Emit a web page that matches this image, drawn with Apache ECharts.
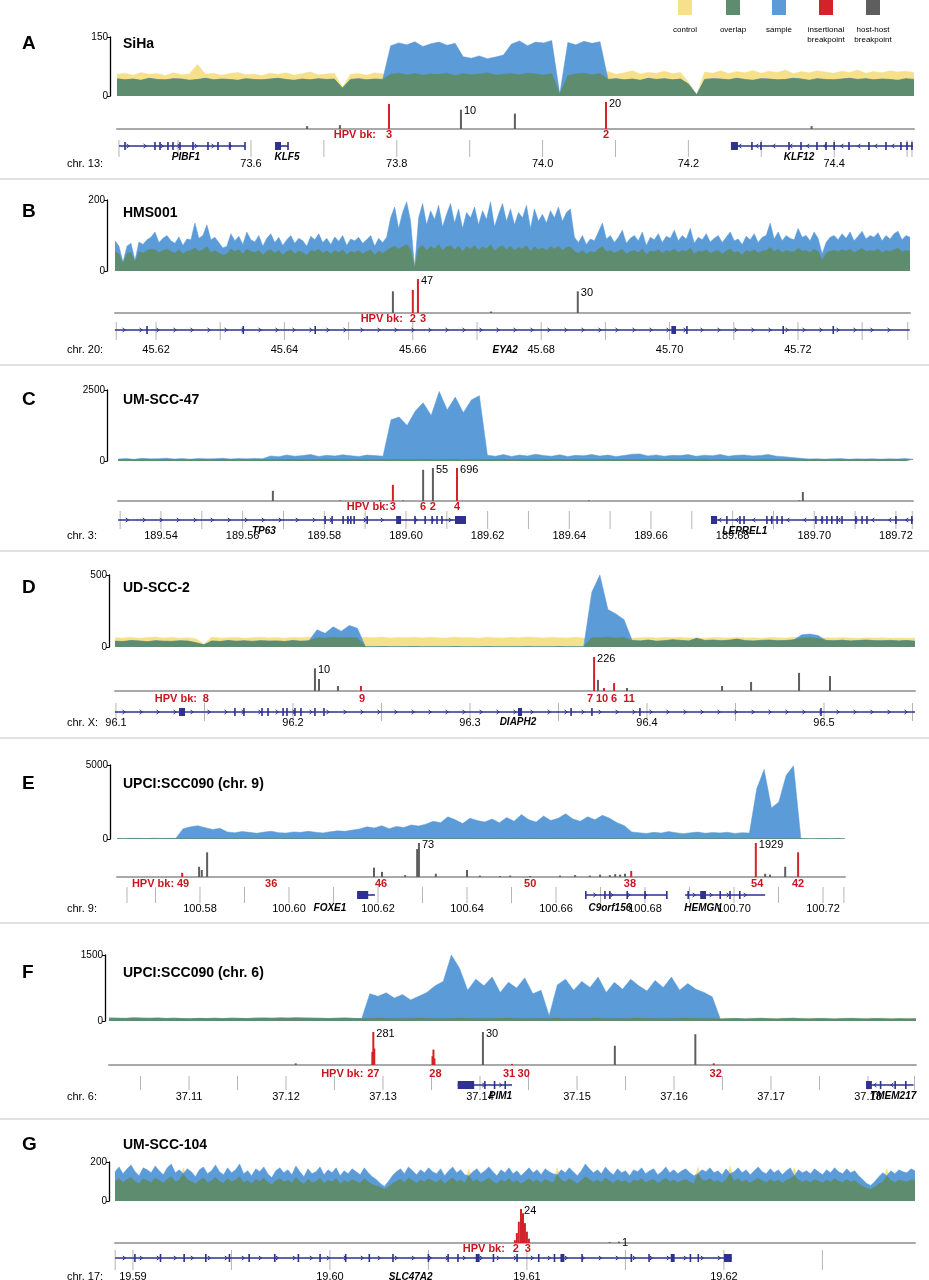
<!DOCTYPE html>
<html>
<head>
<meta charset="utf-8">
<script src="https://cdn.jsdelivr.net/npm/echarts@6/dist/echarts.min.js"></script>
<style>
  html, body { margin: 0; padding: 0; background: #fff; }
  #chart-container { width: 929px; height: 1280px; }
</style>
</head>
<body>
<div id="chart-container"></div>
<script>
// ---- coverage (equal bins across each window) ----
var sihaSample = [44,41,43,40,45,42,41,44,43,40,42,45,41,43,42,40,44,42,41,43,45,42,40,43,41,44,42,43,20,42,44,41,43,42,
  128,135,130,138,126,133,137,129,134, 100,96,102,95,99,104, 132,140,128,137,135,141,5,136,130,139,134,138,
  42,44,41,43,40,45,42,44,41,43,30,3,42,44,43,41,45,42,40,44,43,41,42,45,43,40,44,42,41,43,45,42,44,41,43,42,40,44,42];
var sihaControl = [56,58,53,60,55,57,52,59,54,56,80,55,58,53,57,60,54,56,52,58,55,59,53,57,61,54,56,58,22,55,
  57,53,59,56,55,58,54,57,53,56,55,58,52,57,54,56,59,53,55,57,54,58,56,53,57,5,52,56,58,54,
  57,62,55,59,64,56,60,58,63,57,60,35,3,61,58,64,57,62,59,65,58,63,60,66,57,62,59,64,61,58,63,60,66,58,62,59,64,61,63,60];

var hms001Sample = [85,70,25,70,78,30,82,75,88,95, 110,80,92,100,85,78,96,72,90,88, 135,92,100,130,88,95,80,65,70,105,
  85,98,75,110,88,82,100,70,92,105, 80,95,72,88,100,78,92,85,70,98, 88,105,80,92,75,96,84,100,72,90,
  85,95,78,88,100,70,92,80,95,150, 180,120,165,195,140,8,150,190,130,170, 145,185,125,160,190,135,175,120,165,150,
  180,130,170,145,195,125,160,190,140,175, 130,165,150,185,120,175,140,160,135,170, 150,180,140,165,175,95,80,100,75,90,
  85,110,135,90,100,80,95,115,78,92, 100,85,110,72,95,88,105,80,98,92, 115,85,100,90,120,78,95,88,105,82,
  92,100,80,95,110,85,90,75,98,88, 105,80,95,100,135,90,110,85,100,92, 88,120,95,100,85,110,92,48,80,95,
  100,88,105,92,110,85,98,112,90,100, 95,108,85,100,90,105,112,88,100,95];
var hms001Control = [55,48,22,50,52,25,55,50,58,62, 60,52,58,62,55,50,60,48,56,58, 65,55,60,68,52,58,50,45,48,62,
  55,60,48,62,55,52,58,45,56,60, 50,58,46,55,60,48,56,52,45,58, 55,62,50,56,48,58,52,60,46,55,
  52,58,48,55,60,45,56,50,58,65, 70,62,68,75,60,22,65,72,58,70, 62,75,58,68,72,60,70,55,68,62,
  72,58,68,62,75,56,66,72,60,70, 58,66,62,72,55,68,60,65,58,68, 62,70,58,66,68,55,50,58,48,55,
  52,62,68,55,58,50,56,62,48,55, 58,52,62,46,56,54,60,50,58,55, 62,52,58,55,64,48,56,54,60,50,
  55,58,48,56,62,52,55,46,58,54, 60,50,56,58,66,54,62,52,58,55, 54,64,56,58,52,62,55,30,50,56,
  58,54,60,56,62,52,58,64,55,58, 56,62,52,58,55,60,64,54,58,56];

var umscc47Sample = [70,85,60,95,75,80,100,70,85,65,90,75,80,95,70,85,75,90,80,
  180,150,210,170,190,230,160,200,175,220,185,160,210,190,170,
  1450,1550,1250,1750,2050,1600,2450,1800,2250,1700,2150,2300,
  200,170,230,160,210,180,240,190,170,220,160,200,185,230,175,210,160,195,240,250,180,215,170,200,190,225,165,205,185,230,170,200,215,180,195,230,170,150,120,100,
  70,80,65,75,85,60,75,70,80,65,75,70,85,60];
var umscc47Control = [50,55,45,60,50,52,58,48,55,50,52,48,55,60,50,54,48,56,52,50,55,50,58,52,48,55,60,50,54,52,
  50,56,48,55,52,58,50,54,60,52,55,50,58,48,56,52,50,55,60,48,54,52,56,50,58,52,48,55,50,54,
  52,58,50,55,48,56,52,60,50,54,55,50,52,58,48,55,50,56,52,50,54,50,56,52,58,48,55,50,52,56,50,54,48,55,52,50,56,52,48,54];

var udscc2Sample = [40,38,45,42,36,44,40,39,43,41,30,15,42,38,45,40,43,39,44,41,42,38,45,40,43,
  120,95,140,110,150,130,
  2,1,3,2,1,2,3,1,2,2,1,3,2,1,2,3,2,1,2,2,3,1,2,1,3,2,1,2,
  380,500,260,230,190,
  45,42,48,40,44,50,46,42,60,45,48,43,47,55,44,42,46,48,43,45,50,85,90,80,46,43,47,42,45,48,44,43,46,42,45,40];
var udscc2Control = [65,62,68,60,66,70,63,67,61,65,58,20,69,62,64,67,60,65,68,63,66,61,67,64,70,65,62,68,64,66,
  63,67,65,70,62,66,64,68,63,67,65,62,69,64,66,61,68,65,63,67,64,70,66,62,68,65,63,67,62,66,
  64,68,63,66,61,65,68,62,66,64,67,63,65,61,66,64,62,67,63,65,60,66,64,62,67,63,65,61,64,62,66,63,60,65,62,64,61,63,60,62];

var upci9Sample = [40,35,50,45,30,55,40,45,50,
  700,820,900,760,650,720,
  480,420,510,450,390,470,520,430,400,480,450,520,460,410,490,550,520,600,
  680,820,750,900,700,850,780,950,880,
  1000,1200,1100,1500,1300,1050,1400,1250,1150,1350,1100,1450,1200,1650,1300,1150,1550,1250,1400,1700,1350,1200,1500,1300,1600,1400,1100,900,
  480,420,380,450,400,500,430,360,420,470,390,440,410,460,380,430,400,
  3400,4700,2100,2500,4300,4950,
  30,20,25,30,20,45,25];
var upci9Control = [30,25,35,28,32,26,30,34,27,31,29,33,26,30,35,28,31,27,32,29,34,26,30,33,28,31,25,32,29,30,
  27,33,30,26,31,34,28,30,32,27,29,31,26,33,30,28,32,25,31,29,30,34,27,31,28,33,26,30,32,29,
  31,27,33,28,30,26,32,29,34,30,28,31,25,33,29,30,27,32,28,31,30,26,33,29,31,28,34,27,30,32,29,31,26,30,33,28,30,27,31,29];

var upci6Sample = [70,65,60,75,68,62,70,58,64,55,50,60,58,62,55,65,60,58,66,70,64,72,68,75,70,66,62,58,64,70,60,55,
  620,560,640,520,600,480,560,650,
  800,900,1500,1200,
  700,950,800,1000,650,880,750,980,620,700,
  120,
  820,950,700,900,760,1000,650,880,720,950,800,680,920,760,1000,700,850,720,650,550,
  45,50,55,48,52,60,50,46,55,62,50,48,54,50,45,52,58,50,48,55,50,46,52,48,50];
var upci6Control = [65,62,58,70,64,60,66,56,62,58,52,60,56,64,58,62,60,55,64,66,62,68,64,70,66,62,60,56,62,66,
  58,56,62,66,60,64,58,62,66,60,64,58,62,66,60,64,58,62,60,66,62,58,64,60,62,66,58,64,60,62,
  66,58,64,60,62,66,60,58,64,62,60,66,62,58,64,60,66,62,58,68,64,60,66,70,62,64,68,60,66,62,64,70,62,66,60,68,64,62,66,60];

var umscc104Sample = [150,175,140,165,185,150,130,170,160,145, 180,155,135,170,190,145,160,140,165,150,
  125,160,175,140,155,185,150,135,170,145, 160,190,140,155,130,165,150,175,140,120,
  155,170,145,160,135,180,150,125,165,140, 150,175,135,160,145,170,130,155,140,165,
  150,135,170,145,125,110,90,75,100,130, 150,165,140,175,155,135,160,145,170,150,
  140,165,130,155,175,145,160,135,130,150, 165,140,155,175,150,130,160,145,170,140,
  155,130,150,170,145,160,135,165,150,140, 135,160,145,170,150,130,155,190,165,145,
  160,140,175,150,135,165,145,155,130,160, 150,170,140,155,165,135,150,175,145,160,
  140,155,165,145,130,140,160,150,170,145, 155,135,165,140,150,170,145,160,135,155,
  175,150,140,165,145,160,135,155,170,130, 160,145,155,140,165,150,135,160,145,170,
  150,140,165,145,155,130,110,90,80,100, 125,145,130,155,140,160,150,145,165,155];
var umscc104Control = [100,115,95,110,120,100,90,115,105,95, 118,105,92,112,125,98,108,170,110,100,
  88,105,118,95,102,122,100,92,115,98, 108,125,95,105,88,110,100,118,95,85,
  105,115,98,108,92,120,100,86,112,95, 100,118,90,108,98,115,88,105,95,110,
  100,92,115,98,85,78,70,60,72,90, 100,112,95,118,105,92,108,98,115,102,
  95,112,88,105,118,98,108,92,165,100, 110,95,105,118,100,88,108,98,115,95,
  105,88,100,115,98,108,92,112,100,95, 170,108,98,115,102,88,105,125,110,98,
  108,95,118,102,92,110,98,105,88,108, 102,115,95,105,110,92,102,118,98,108,
  95,105,110,98,88,175,108,102,115,98, 105,92,110,180,102,115,98,108,92,105,
  118,102,95,110,98,108,92,105,115,170, 108,98,105,95,110,102,92,108,98,115,
  102,95,110,98,105,88,75,65,60,72, 88,98,165,105,95,108,102,98,110,105];

// ---- breakpoints: [position Mb, reads, show count label] ----
var sihaInsertional = [[73.7893, 13], [74.087, 20, 1]];
var sihaHostHost = [[73.677, 1.5], [73.722, 2], [73.888, 10, 1], [73.962, 8], [74.369, 1.5]];
var hms001Insertional = [[45.6600, 32], [45.6608, 47, 1]];
var hms001HostHost = [[45.6569, 30], [45.6722, 2], [45.6857, 30, 1]];
var umscc47Insertional = [[189.5968, 27], [189.6125, 696, 1]];
var umscc47HostHost = [[189.5674, 17], [189.5838, 1], [189.5936, 1.5], [189.5993, 1], [189.6042, 52], [189.6066, 55, 1], [189.6448, 1], [189.6963, 1], [189.6972, 15]];
var udscc2Insertional = [[96.2384, 2.2], [96.3701, 226, 1], [96.3757, 1.3], [96.3814, 3.5]];
var udscc2HostHost = [[96.2124, 10, 1], [96.2147, 5.3], [96.2254, 2.2], [96.3723, 4.9], [96.3887, 1.3], [96.4424, 2.2], [96.4588, 4], [96.4859, 8], [96.5034, 6.6]];
var upci9Insertional = [[100.5760, 9], [100.6769, 13], [100.7049, 1929, 1], [100.7144, 53]];
var upci9HostHost = [[100.5798, 22], [100.5804, 15], [100.5816, 53], [100.6191, 20], [100.6209, 11], [100.6261, 4], [100.6288, 60], [100.6292, 73, 1],
  [100.6330, 7], [100.6400, 15], [100.6429, 3], [100.6474, 2], [100.6497, 3], [100.6542, 2], [100.6609, 3], [100.6643, 4], [100.6676, 3], [100.6699, 5],
  [100.6721, 4], [100.6733, 6], [100.6744, 5], [100.6755, 7], [100.7070, 7], [100.7081, 5], [100.7115, 22]];
var upci6Insertional = [[37.1289, 12], [37.1290, 281, 1], [37.1291, 15], [37.1351, 8], [37.1352, 14], [37.1353, 6], [37.1433, 1], [37.1641, 1.5]];
var upci6HostHost = [[37.1210, 1.5], [37.1403, 30, 1], [37.1539, 17.5], [37.1622, 28]];
var umscc104Insertional = [[19.60939, 2], [19.60949, 7], [19.60959, 15], [19.60970, 24, 1], [19.60980, 21], [19.60990, 14], [19.61000, 8], [19.61010, 3]];
var umscc104HostHost = [[19.6142, 0.6], [19.61467, 1, 1]];

// ---- HPV breakpoint ids ----
var sihaHpv = [[73.7893, '3'], [74.087, '2']];
var hms001Hpv = [[45.6600, '2'], [45.6616, '3']];
var umscc47Hpv = [[189.5968, '3'], [189.6042, '6'], [189.6066, '2'], [189.6125, '4']];
var udscc2Hpv = [[96.1508, '8'], [96.2390, '9'], [96.3678, '7'], [96.3746, '10'], [96.3814, '6'], [96.3898, '11']];
var upci9Hpv = [[100.5762, '49'], [100.5960, '36'], [100.6207, '46'], [100.6542, '50'], [100.6766, '38'], [100.7052, '54'], [100.7144, '42']];
var upci6Hpv = [[37.1290, '27'], [37.1354, '28'], [37.1430, '31'], [37.1445, '30'], [37.1643, '32']];
var umscc104Hpv = [[19.60944, '2'], [19.61005, '3']];

// ---- windows, ticks and tick labels (Mb) ----
var sihaRange = [73.4162, 74.5095];
var hms001Range = [45.61361, 45.73745];
var umscc47Range = [189.52947, 189.72418];
var udscc2Range = [96.09944, 96.55141];
var upci9Range = [100.56135, 100.72494];
var upci6Range = [37.10175, 37.18495];
var umscc104Range = [19.58909, 19.62970];

var sihaTicks = [73.4189, 73.5, 73.6, 73.7, 73.8, 73.9, 74.0, 74.1, 74.2, 74.3, 74.4, 74.5, 74.5067];
var hms001Ticks = [45.6138, 45.62, 45.63, 45.64, 45.65, 45.66, 45.67, 45.68, 45.69, 45.70, 45.71, 45.72, 45.73, 45.7371];
var umscc47Ticks = [189.53, 189.54, 189.55, 189.56, 189.57, 189.58, 189.59, 189.60, 189.61, 189.62, 189.63, 189.64, 189.65, 189.66, 189.67, 189.68, 189.69, 189.70, 189.71, 189.72, 189.7240];
var udscc2Ticks = [96.10, 96.15, 96.20, 96.25, 96.30, 96.35, 96.40, 96.45, 96.50, 96.55];
var upci9Ticks = [100.5636, 100.57, 100.58, 100.59, 100.60, 100.61, 100.62, 100.63, 100.64, 100.65, 100.66, 100.67, 100.68, 100.69, 100.70, 100.71, 100.72, 100.7247];
var upci6Ticks = [37.105, 37.11, 37.115, 37.12, 37.125, 37.13, 37.135, 37.14, 37.145, 37.15, 37.155, 37.16, 37.165, 37.17, 37.175, 37.18, 37.1848];
var umscc104Ticks = [19.5891, 19.59, 19.595, 19.60, 19.605, 19.61, 19.615, 19.62, 19.625];

var sihaTickLabels = ['73.6', '73.8', '74.0', '74.2', '74.4'];
var hms001TickLabels = ['45.62', '45.64', '45.66', '45.68', '45.70', '45.72'];
var umscc47TickLabels = ['189.54', '189.56', '189.58', '189.60', '189.62', '189.64', '189.66', '189.68', '189.70', '189.72'];
var udscc2TickLabels = ['96.1', '96.2', '96.3', '96.4', '96.5'];
var upci9TickLabels = ['100.58', '100.60', '100.62', '100.64', '100.66', '100.68', '100.70', '100.72'];
var upci6TickLabels = ['37.11', '37.12', '37.13', '37.14', '37.15', '37.16', '37.17', '37.18'];
var umscc104TickLabels = ['19.59', '19.60', '19.61', '19.62'];

// ---- genes ----
var sihaGenes = [
  { name: 'PIBF1', start: 73.4189, end: 73.5918, dir: 1, labelAt: 73.5108, exons: [73.4272, 73.4683, 73.4752, 73.4861, 73.4930, 73.5026, 73.5204, 73.5410, 73.5547, 73.5712, 73.5918], blocks: [] },
  { name: 'KLF5', start: 73.6329, end: 73.6508, dir: 1, labelAt: 73.6494, exons: [73.6508], blocks: [[73.6329, 73.6412]] },
  { name: 'KLF12', start: 74.2584, end: 74.5081, dir: -1, labelAt: 74.3517, exons: [74.2872, 74.2996, 74.3380, 74.3545, 74.3764, 74.3888, 74.4000, 74.4203, 74.4477, 74.4711, 74.4916, 74.4999, 74.5067], blocks: [[74.2584, 74.2680]] }
];
var hms001Genes = [
  { name: 'EYA2', start: 45.6136, end: 45.7374, dir: 1, labelAt: 45.6744, exons: [45.6186, 45.6336, 45.6448, 45.7004, 45.7027, 45.7177, 45.7255], blocks: [[45.7004, 45.7010]] }
];
var umscc47Genes = [
  { name: 'TP63', start: 189.5295, end: 189.6147, dir: 1, labelAt: 189.5652, exons: [189.5802, 189.5819, 189.5846, 189.5858, 189.5865, 189.5873, 189.5905, 189.6022, 189.6047, 189.6064, 189.6076, 189.6088], blocks: [[189.5976, 189.5988], [189.6120, 189.6147]] },
  { name: 'LEPREL1', start: 189.6747, end: 189.7242, dir: -1, labelAt: 189.6830, exons: [189.6786, 189.6818, 189.6828, 189.6884, 189.6896, 189.6909, 189.6921, 189.7004, 189.7019, 189.7031, 189.7043, 189.7056, 189.7068, 189.7102, 189.7117, 189.7129, 189.7200, 189.7239], blocks: [[189.6747, 189.6762]] }
];
var udscc2Genes = [
  { name: 'DIAPH2', start: 96.0994, end: 96.5514, dir: 1, labelAt: 96.3271, exons: [96.1672, 96.1723, 96.1825, 96.1859, 96.1944, 96.1966, 96.2011, 96.2045, 96.2124, 96.2175, 96.3571, 96.3689, 96.3960, 96.4983], blocks: [[96.1356, 96.1390], [96.3271, 96.3294]] }
];
var upci9Genes = [
  { name: 'FOXE1', start: 100.6153, end: 100.6193, dir: 1, labelAt: 100.6092, exons: [], blocks: [[100.6153, 100.6178]] },
  { name: 'C9orf156', start: 100.6667, end: 100.6849, dir: 1, labelAt: 100.6721, exons: [100.6667, 100.6710, 100.6721, 100.6760, 100.6800, 100.6849], blocks: [] },
  { name: 'HEMGN', start: 100.6890, end: 100.7070, dir: 1, labelAt: 100.6930, exons: [100.6897, 100.6969, 100.6991, 100.7013], blocks: [[100.6924, 100.6937]] }
];
var upci6Genes = [
  { name: 'PIM1', start: 37.1377, end: 37.1433, dir: 1, labelAt: 37.1421, exons: [37.1405, 37.1415, 37.1426], blocks: [[37.1377, 37.1394]] },
  { name: 'TMEM217', start: 37.1798, end: 37.1847, dir: -1, labelAt: 37.1826, exons: [37.1813, 37.1828, 37.1839], blocks: [[37.1798, 37.1804]] }
];
var umscc104Genes = [
  { name: 'SLC47A2', start: 19.5891, end: 19.6204, dir: 1, labelAt: 19.6041, exons: [19.5901, 19.5914, 19.5926, 19.5937, 19.5949, 19.5959, 19.5972, 19.5984, 19.5995, 19.6008, 19.6020, 19.6032, 19.6050, 19.6060, 19.6065, 19.6083, 19.6095, 19.6106, 19.6114, 19.6128, 19.6153, 19.6162, 19.6183, 19.6187], blocks: [[19.6074, 19.6076], [19.6117, 19.6119], [19.6173, 19.6175], [19.6200, 19.6204]] }
];

// ---- panel layout (pixels) ----
var panels = [
  { letter: 'A', title: 'SiHa', chr: 'chr. 13:', covMax: 150, bkCap: 14, sample: sihaSample, control: sihaControl, ins: sihaInsertional, host: sihaHostHost, hpv: sihaHpv, range: sihaRange, ticks: sihaTicks, tickLabels: sihaTickLabels, genes: sihaGenes,
    L: { letterY: 44, titleY: 44, left: 117, right: 914, axisX: 110, covTop: 37, cov0: 96, bkTop: 102, bkBase: 129, hpvY: 135, hpvGap: 13, geneY: 146, tickTop: 140, tickBot: 157, geneLabelY: 157, labelY: 164 } },
  { letter: 'B', title: 'HMS001', chr: 'chr. 20:', covMax: 200, bkCap: 47, sample: hms001Sample, control: hms001Control, ins: hms001Insertional, host: hms001HostHost, hpv: hms001Hpv, range: hms001Range, ticks: hms001Ticks, tickLabels: hms001TickLabels, genes: hms001Genes,
    L: { letterY: 212, titleY: 213, left: 115, right: 910, axisX: 107, covTop: 200, cov0: 271, bkTop: 279, bkBase: 313, hpvY: 319, hpvGap: 10, geneY: 330, tickTop: 322, tickBot: 340, geneLabelY: 350, labelY: 350 } },
  { letter: 'C', title: 'UM-SCC-47', chr: 'chr. 3:', covMax: 2500, bkCap: 55, sample: umscc47Sample, control: umscc47Control, ins: umscc47Insertional, host: umscc47HostHost, hpv: umscc47Hpv, range: umscc47Range, ticks: umscc47Ticks, tickLabels: umscc47TickLabels, genes: umscc47Genes,
    L: { letterY: 400, titleY: 400, left: 118, right: 913, axisX: 107, covTop: 390, cov0: 461, bkTop: 468, bkBase: 501, hpvY: 507, hpvGap: 4, geneY: 520, tickTop: 511, tickBot: 529, geneLabelY: 531, labelY: 536 } },
  { letter: 'D', title: 'UD-SCC-2', chr: 'chr. X:', covMax: 500, bkCap: 15, sample: udscc2Sample, control: udscc2Control, ins: udscc2Insertional, host: udscc2HostHost, hpv: udscc2Hpv, range: udscc2Range, ticks: udscc2Ticks, tickLabels: udscc2TickLabels, genes: udscc2Genes,
    L: { letterY: 588, titleY: 588, left: 115, right: 915, axisX: 109, covTop: 575, cov0: 647, bkTop: 657, bkBase: 691, hpvY: 699, hpvGap: 9, geneY: 712, tickTop: 703, tickBot: 721, geneLabelY: 722, labelY: 723 } },
  { letter: 'E', title: 'UPCI:SCC090 (chr. 9)', chr: 'chr. 9:', covMax: 5000, bkCap: 73, sample: upci9Sample, control: upci9Control, ins: upci9Insertional, host: upci9HostHost, hpv: upci9Hpv, range: upci9Range, ticks: upci9Ticks, tickLabels: upci9TickLabels, genes: upci9Genes,
    L: { letterY: 784, titleY: 784, left: 117, right: 845, axisX: 110, covTop: 765, cov0: 839, bkTop: 843, bkBase: 877, hpvY: 884, hpvGap: 9, geneY: 895, tickTop: 887, tickBot: 903, geneLabelY: 908, labelY: 909 } },
  { letter: 'F', title: 'UPCI:SCC090 (chr. 6)', chr: 'chr. 6:', covMax: 1500, bkCap: 30, sample: upci6Sample, control: upci6Control, ins: upci6Insertional, host: upci6HostHost, hpv: upci6Hpv, range: upci6Range, ticks: upci6Ticks, tickLabels: upci6TickLabels, genes: upci6Genes,
    L: { letterY: 973, titleY: 973, left: 109, right: 916, axisX: 105, covTop: 955, cov0: 1021, bkTop: 1032, bkBase: 1065, hpvY: 1074, hpvGap: 10, geneY: 1085, tickTop: 1076, tickBot: 1090, geneLabelY: 1096, labelY: 1097 } },
  { letter: 'G', title: 'UM-SCC-104', chr: 'chr. 17:', covMax: 200, bkCap: 24, sample: umscc104Sample, control: umscc104Control, ins: umscc104Insertional, host: umscc104HostHost, hpv: umscc104Hpv, range: umscc104Range, ticks: umscc104Ticks, tickLabels: umscc104TickLabels, genes: umscc104Genes,
    L: { letterY: 1145, titleY: 1145, left: 115, right: 915, axisX: 109, covTop: 1162, cov0: 1201, bkTop: 1209, bkBase: 1243, hpvY: 1249, hpvGap: 11, geneY: 1258, tickTop: 1250, tickBot: 1270, geneLabelY: 1277, labelY: 1277 } }
];
var separators = [179, 365, 551, 738, 923, 1119];

var FONT = '"Liberation Sans", Arial, Helvetica, sans-serif';
var C = { control: '#F6E08A', overlap: '#5E8C6F', sample: '#5B9BD8', ins: '#D2232A', host: '#5E5E5E', gene: '#2E318F', tick: '#B5B5B5', base: '#A9A9A9', hpv: '#C8161E' };

var dom = document.getElementById('chart-container');
var myChart = echarts.init(dom, null, { renderer: 'canvas' });

var grids = [], xAxes = [], yAxes = [], series = [], graphic = [];

function txt(text, x, y, font, color, align, valign) {
  return { type: 'text', silent: true, style: { text: text, x: x, y: y, font: font, fill: color || '#000',
    align: align || 'left', verticalAlign: valign || 'middle', textAlign: align || 'left', textVerticalAlign: valign || 'middle' } };
}

function bkItem(d, color, cap) {
  var item = { value: [d[0], Math.min(d[1], cap)], itemStyle: { color: color } };
  if (d[2]) {
    item.label = { show: true, formatter: String(d[1]), position: [4, -4], align: 'left', verticalAlign: 'top',
      fontSize: 11, color: '#000', fontFamily: FONT };
  }
  return item;
}

panels.forEach(function (p) {
  var L = p.L, width = L.right - L.left;

  // coverage
  var gi = grids.length;
  grids.push({ left: L.left, top: L.covTop, width: width, height: L.cov0 - L.covTop });
  xAxes.push({ gridIndex: gi, type: 'category', boundaryGap: false, show: false, data: p.sample.map(function (v, i) { return i; }) });
  yAxes.push({ gridIndex: gi, type: 'value', min: 0, max: p.covMax, interval: p.covMax, offset: L.left - L.axisX,
    axisLine: { show: true, lineStyle: { color: '#000', width: 1.3 } },
    axisTick: { show: true, length: 3, lineStyle: { color: '#000', width: 1 } },
    axisLabel: { fontSize: 10, color: '#000', margin: 2, fontFamily: FONT, formatter: function (v) { return String(v); } },
    splitLine: { show: false } });
  var overlap = p.control.map(function (c, i) { return Math.min(c, p.sample[i]); });
  [['control', p.control, C.control, 1], ['sample', p.sample, C.sample, 2], ['overlap', overlap, C.overlap, 3]].forEach(function (s) {
    series.push({ type: 'line', name: s[0], xAxisIndex: gi, yAxisIndex: gi, data: s[1], symbol: 'none', silent: true,
      lineStyle: { width: 0.5, color: s[2] }, areaStyle: { color: s[2], opacity: 1 }, z: s[3] });
  });

  // breakpoints
  var bi = grids.length;
  grids.push({ left: L.left, top: L.bkTop, width: width, height: L.bkBase - L.bkTop });
  xAxes.push({ gridIndex: bi, type: 'value', min: p.range[0], max: p.range[1],
    axisLine: { show: true, lineStyle: { color: C.base, width: 2 } }, axisTick: { show: false }, axisLabel: { show: false }, splitLine: { show: false } });
  yAxes.push({ gridIndex: bi, type: 'value', min: 0, max: p.bkCap, show: false, splitLine: { show: false } });
  var items = p.host.map(function (d) { return bkItem(d, C.host, p.bkCap); })
    .concat(p.ins.map(function (d) { return bkItem(d, C.ins, p.bkCap); }));
  series.push({ type: 'bar', xAxisIndex: bi, yAxisIndex: bi, barWidth: 2, data: items, silent: true, z: 3 });

  // gene / coordinate track
  var ti = grids.length;
  grids.push({ left: L.left, top: L.geneY - 10, width: width, height: 20 });
  xAxes.push({ gridIndex: ti, type: 'value', min: p.range[0], max: p.range[1], show: false });
  yAxes.push({ gridIndex: ti, type: 'value', min: 0, max: 1, show: false });

  series.push({ type: 'custom', xAxisIndex: ti, yAxisIndex: ti, silent: true, z: 1,
    data: p.ticks.map(function (v) { return [v, 0.5]; }),
    renderItem: function (params, api) {
      var pt = api.coord([api.value(0), 0.5]);
      return { type: 'line', shape: { x1: pt[0], y1: pt[1] + L.tickTop - L.geneY, x2: pt[0], y2: pt[1] + L.tickBot - L.geneY },
        style: { stroke: C.tick, lineWidth: 1 } };
    } });

  series.push({ type: 'custom', xAxisIndex: ti, yAxisIndex: ti, silent: true, z: 2,
    data: p.tickLabels.map(function (s) { return [parseFloat(s), 0.5]; }),
    renderItem: function (params, api) {
      var pt = api.coord([api.value(0), 0.5]);
      return { type: 'text', x: pt[0], y: pt[1] + L.labelY - L.geneY,
        style: { text: p.tickLabels[params.dataIndex], font: '11px ' + FONT, fill: '#000', align: 'center', verticalAlign: 'middle' } };
    } });

  series.push({ type: 'custom', xAxisIndex: ti, yAxisIndex: ti, silent: true, z: 3,
    data: p.genes.map(function (g) { return [g.start, 0.5]; }),
    renderItem: function (params, api) {
      var g = p.genes[params.dataIndex];
      var a = api.coord([g.start, 0.5]), b = api.coord([g.end, 0.5]), y = a[1];
      var kids = [{ type: 'line', shape: { x1: a[0], y1: y, x2: b[0], y2: y }, style: { stroke: C.gene, lineWidth: 1.6 } }];
      for (var x = a[0] + 9; x < b[0] - 6; x += 17) {
        kids.push({ type: 'polyline', shape: { points: [[x - 1.4 * g.dir, y - 2], [x + 1.4 * g.dir, y], [x - 1.4 * g.dir, y + 2]] },
          style: { stroke: C.gene, lineWidth: 1, fill: null } });
      }
      g.exons.forEach(function (v) {
        var ex = api.coord([v, 0.5])[0];
        kids.push({ type: 'line', shape: { x1: ex, y1: y - 4, x2: ex, y2: y + 4 }, style: { stroke: C.gene, lineWidth: 1.6 } });
      });
      g.blocks.forEach(function (bl) {
        var x0 = api.coord([bl[0], 0.5])[0], x1 = api.coord([bl[1], 0.5])[0];
        kids.push({ type: 'rect', shape: { x: x0, y: y - 4, width: Math.max(x1 - x0, 2.5), height: 8 }, style: { fill: C.gene } });
      });
      var lx = api.coord([g.labelAt, 0.5])[0];
      kids.push({ type: 'text', x: lx, y: y + L.geneLabelY - L.geneY,
        style: { text: g.name, font: 'italic bold 10px ' + FONT, fill: '#000', align: 'center', verticalAlign: 'middle' } });
      return { type: 'group', children: kids };
    } });

  series.push({ type: 'custom', xAxisIndex: ti, yAxisIndex: ti, silent: true, z: 4,
    data: p.hpv.map(function (h) { return [h[0], 0.5]; }),
    renderItem: function (params, api) {
      var pt = api.coord([api.value(0), 0.5]), y = pt[1] + L.hpvY - L.geneY;
      var kids = [{ type: 'text', x: pt[0], y: y,
        style: { text: p.hpv[params.dataIndex][1], font: 'bold 11px ' + FONT, fill: C.hpv, align: 'center', verticalAlign: 'middle' } }];
      if (params.dataIndex === 0) {
        kids.push({ type: 'text', x: pt[0] - L.hpvGap, y: y,
          style: { text: 'HPV bk:', font: 'bold 11px ' + FONT, fill: C.hpv, align: 'right', verticalAlign: 'middle' } });
      }
      return { type: 'group', children: kids };
    } });

  graphic.push(txt(p.letter, 22, L.letterY, 'bold 19px ' + FONT, '#000'));
  graphic.push(txt(p.title, 123, L.titleY, 'bold 14px ' + FONT, '#000'));
  graphic.push(txt(p.chr, 67, L.labelY, '11px ' + FONT, '#000'));
});

separators.forEach(function (y) {
  graphic.push({ type: 'line', silent: true, shape: { x1: 0, y1: y, x2: 929, y2: y }, style: { stroke: '#C4C4C4', lineWidth: 1 } });
});

// legend
var legend = [['control', null, C.control, 685], ['overlap', null, C.overlap, 733], ['sample', null, C.sample, 779],
  ['insertional', 'breakpoint', C.ins, 826], ['host-host', 'breakpoint', C.host, 873]];
legend.forEach(function (l) {
  graphic.push({ type: 'rect', silent: true, shape: { x: l[3] - 7, y: 0, width: 14, height: 15 }, style: { fill: l[2] } });
  graphic.push(txt(l[0], l[3], 30, '8px ' + FONT, '#000', 'center'));
  if (l[1]) graphic.push(txt(l[1], l[3], 40, '8px ' + FONT, '#000', 'center'));
});

var option = {
  animation: false,
  backgroundColor: '#fff',
  grid: grids,
  xAxis: xAxes,
  yAxis: yAxes,
  series: series,
  graphic: graphic
};

myChart.setOption(option);
window.addEventListener('resize', myChart.resize);
</script>
</body>
</html>
